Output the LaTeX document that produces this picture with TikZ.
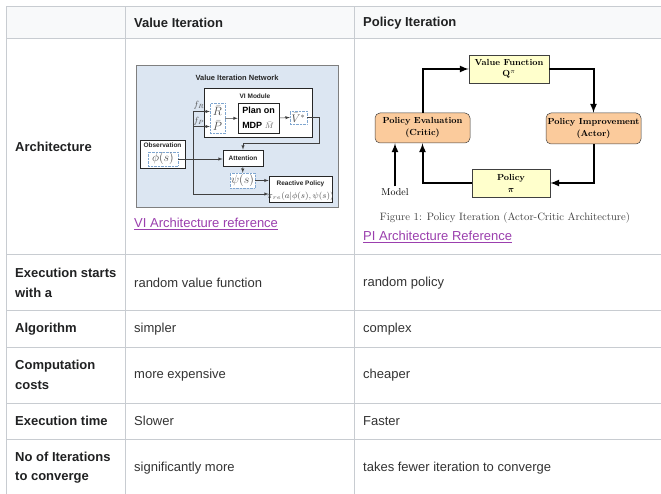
\RequirePackage{fix-cm}
\documentclass[tikz,border=0pt]{standalone}
\usepackage{fontspec}
\setsansfont{Liberation Sans}
\usepackage{xcolor}
\usetikzlibrary{calc}

\definecolor{gridgray}{HTML}{C8CCD1}
\definecolor{headbg}{HTML}{F8F9FA}
\definecolor{headtext}{HTML}{202122}
\definecolor{bodytext}{HTML}{333333}
\definecolor{linkpurple}{HTML}{9B3FAE}
\definecolor{vibg}{HTML}{DCE6F2}
\definecolor{viframe}{HTML}{7F7F7F}
\definecolor{dotblue}{HTML}{7FA6D0}
\definecolor{piyellow}{HTML}{FFFFCC}
\definecolor{piorange}{HTML}{FBCB9C}

\tikzset{
  cell/.style={anchor=west, inner sep=0pt, text=bodytext, font=\sffamily\fontsize{13}{19.5}\selectfont},
  rowhead/.style={cell, text=headtext, font=\sffamily\bfseries\fontsize{13}{19.5}\selectfont, align=left},
  weblink/.style={cell, text=linkpurple},
  viblock/.style={draw=black!85, fill=white, line width=0.7pt, inner sep=0pt},
  vidots/.style={draw=dotblue, densely dotted, fill=white, inner sep=0pt, text=black!70, font=\fontsize{12}{15}\selectfont},
  vilabel/.style={inner sep=0pt, text=black!85, font=\sffamily\bfseries\fontsize{6.5}{8}\selectfont},
  viarrow/.style={-latex, draw=black!75, line width=0.5pt},
  pibox/.style={draw=black!75, fill=piyellow, line width=0.5pt, inner sep=0pt, align=center, font=\rmfamily\bfseries\fontsize{8.8}{12}\selectfont},
  piround/.style={pibox, fill=piorange, rounded corners=5pt},
  piarrow/.style={-latex, line width=2pt},
}

\begin{document}
\begin{tikzpicture}[x=1pt, y=-1pt]

\useasboundingbox (0,0) rectangle (661,494);
\fill[white] (0,0) rectangle (661,494);

% ------------------------
% Table grid
% ------------------------
\fill[headbg] (6,7) rectangle (661,39);
\foreach \y in {7,39,255,310,347,403,439}{
  \draw[gridgray, line width=1pt] (6,\y) -- (661,\y);
}
\foreach \x in {6,125,354}{
  \draw[gridgray, line width=1pt] (\x,7) -- (\x,494);
}

% ------------------------
% Header and row labels
% ------------------------
\node[rowhead] (hdValue) at (134,23) {Value Iteration};
\node[rowhead] (hdPolicy) at (363,23) {Policy Iteration};

\node[rowhead] (rowArch) at (15,147) {Architecture};
\node[rowhead] (rowStart) at (15,282.7) {Execution starts\\with a};
\node[rowhead] (rowAlgo) at (15,329) {Algorithm};
\node[rowhead] (rowCost) at (15,374.7) {Computation\\costs};
\node[rowhead] (rowTime) at (15,421) {Execution time};
\node[rowhead] (rowIter) at (15,467.7) {No of Iterations\\to converge};

% ------------------------
% Cells
% ------------------------
\node[cell] (viStart) at (134,282.7) {random value function};
\node[cell] (piStart) at (363,282.7) {random policy};
\node[cell] (viAlgo) at (134,329) {simpler};
\node[cell] (piAlgo) at (363,329) {complex};
\node[cell] (viCost) at (134,374.7) {more expensive};
\node[cell] (piCost) at (363,374.7) {cheaper};
\node[cell] (viTime) at (134,421) {Slower};
\node[cell] (piTime) at (363,421) {Faster};
\node[cell] (viIter) at (134,467.7) {significantly more};
\node[cell] (piIter) at (363,467.7) {takes fewer iteration to converge};

% ------------------------
% VI architecture figure
% ------------------------
\node[draw=viframe, fill=vibg, line width=0.8pt, minimum width=202pt, minimum height=142pt, inner sep=0pt] (viNet) at (237,136) {};
\node[vilabel, font=\sffamily\bfseries\fontsize{7.5}{8}\selectfont] (viTitle) at (237,78) {Value Iteration Network};

\node[viblock, minimum width=108pt, minimum height=49pt] (viModule) at (258,112.5) {};
\node[vilabel] (viModLabel) at (255,96) {VI Module};
\node[vidots, minimum width=15pt, minimum height=30pt, align=center] (rpBox) at (217.5,118.5) {$\bar R$\\$\bar P$};
\node[viblock, minimum width=41pt, minimum height=30pt, align=left, font=\sffamily\bfseries\fontsize{9}{15}\selectfont] (planBox) at (258.5,118) {Plan on\\MDP {\color{black!60}\fontsize{8}{9}\selectfont$\bar M$}};
\node[vidots, minimum width=17pt, minimum height=13pt, font=\fontsize{11}{12}\selectfont] (vBox) at (298.5,117.5) {$\bar V^{*}$};

\node[viblock, minimum width=45pt, minimum height=28pt] (obsBox) at (162.5,154) {};
\node[vilabel] (obsLabel) at (162.5,145) {Observation};
\node[vidots, minimum width=30pt, minimum height=14pt] (phiBox) at (163,159) {$\phi(s)$};

\node[viblock, vilabel, minimum width=40pt, minimum height=16pt] (attBox) at (243,158) {Attention};
\node[vidots, minimum width=25pt, minimum height=15pt] (psiBox) at (242.5,180.5) {$\psi(s)$};

\node[viblock, minimum width=63pt, minimum height=26pt] (reactBox) at (300.5,189) {};
\node[vilabel] (reactLabel) at (300.5,183.5) {Reactive Policy};
\node[inner sep=0pt, text=black!70, font=\fontsize{8.5}{9}\selectfont] (reactPi) at (300.5,196.5) {$\pi_{re}(a|\phi(s),\psi(s))$};

\node[inner sep=0pt, text=black!70, font=\fontsize{9}{10}\selectfont] (fRLabel) at (199,105.5) {$f_R$};
\node[inner sep=0pt, text=black!70, font=\fontsize{9}{10}\selectfont] (fPLabel) at (199,121.5) {$f_P$};

\coordinate (phiFork) at (193,159);
\coordinate (vTurn) at (319,143);

\draw[viarrow] (rpBox) -- (planBox);
\draw[viarrow] (planBox.east) -- (vBox.west);
\draw[viarrow] (vBox.east) -| (vTurn) -| (attBox.north);
\draw[viarrow] (phiBox.east) -- (phiBox.east -| attBox.west);
\draw[viarrow] (phiFork) |- ([yshift=7pt]rpBox.west);
\draw[viarrow] (phiFork) |- ([yshift=-8pt]rpBox.west);
\draw[viarrow] (phiFork) |- ([yshift=-5pt]reactBox.west);
\draw[viarrow] (attBox) -- (psiBox);
\draw[viarrow] (psiBox.east) -- (psiBox.east -| reactBox.west);

\node[weblink] (viLink) at (134,222.5) {VI Architecture reference};
\draw[linkpurple, line width=0.8pt] ([yshift=-1.8pt]viLink.base west) -- ([yshift=-1.8pt]viLink.base east);

% ------------------------
% PI architecture figure
% ------------------------
\node[pibox, minimum width=80pt, minimum height=28pt, font=\rmfamily\bfseries\fontsize{8.8}{11}\selectfont] (valueBox) at (509,69) {Value Function\\Q$^{\pi}$};
\node[piround, minimum width=95pt, minimum height=30pt] (evalBox) at (422.5,128) {Policy Evaluation\\(Critic)};
\node[piround, minimum width=95pt, minimum height=31pt] (improveBox) at (593.5,128.5) {Policy Improvement\\(Actor)};
\node[pibox, minimum width=78pt, minimum height=28pt] (policyBox) at (511,183) {Policy\\{\boldmath$\pi$}};
\node[inner sep=0pt, font=\rmfamily\fontsize{10}{11}\selectfont] (modelLabel) at (395,192) {Model};

\draw[piarrow] (evalBox.north) |- (valueBox.west);
\draw[piarrow] (valueBox.east) -| (improveBox.north);
\draw[piarrow] (improveBox.south) |- (policyBox.east);
\draw[piarrow] (policyBox.west) -| (evalBox.south);
\draw[piarrow] ([yshift=2pt]modelLabel.north) -- (modelLabel.north |- evalBox.south);

\node[inner sep=0pt, text=black!75, font=\rmfamily\fontsize{10.7}{12}\selectfont] (piCaption) at (505,218) {Figure 1: Policy Iteration (Actor-Critic Architecture)};

\node[weblink] (piLink) at (363,235.7) {PI Architecture Reference};
\draw[linkpurple, line width=0.8pt] ([yshift=-1.8pt]piLink.base west) -- ([yshift=-1.8pt]piLink.base east);

\end{tikzpicture}
\end{document}
